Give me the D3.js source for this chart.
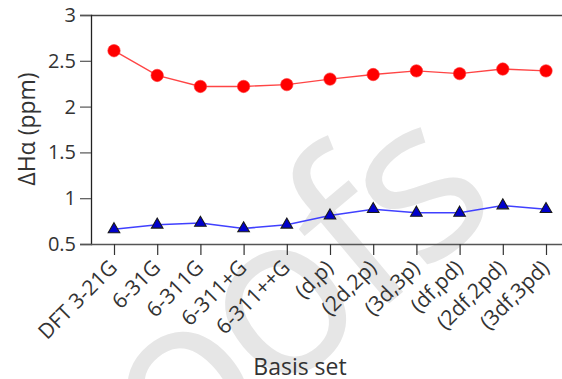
<!DOCTYPE html>
<html>
<head>
<meta charset="utf-8">
<script src="https://cdn.jsdelivr.net/npm/d3@7"></script>
<style>
  html, body { margin: 0; padding: 0; background: #fff; }
  svg { display: block; }
  text { font-family: "Open Sans", Lato, sans-serif; fill: #222; }
</style>
</head>
<body>
<div id="chart"></div>
<script>
// Basis sets along the x axis
const categories = ["DFT 3-21G", "6-31G", "6-311G", "6-311+G", "6-311++G",
  "(d,p)", "(2d,2p)", "(3d,3p)", "(df,pd)", "(2df,2pd)", "(3df,3pd)"];
// Upper series (red circles), ppm
const upperValues = [2.61, 2.34, 2.22, 2.22, 2.24, 2.30, 2.35, 2.39, 2.36, 2.41, 2.39];
// Lower series (blue triangles), ppm
const lowerValues = [0.66, 0.71, 0.73, 0.67, 0.71, 0.81, 0.88, 0.84, 0.84, 0.92, 0.88];
const yTicks = [0.5, 1, 1.5, 2, 2.5, 3];

const W = 562, H = 379;
const svg = d3.select("#chart").append("svg").attr("width", W).attr("height", H);

// Faint background stamp
svg.append("text")
  .attr("transform", "translate(498,212) rotate(-40)")
  .attr("text-anchor", "end")
  .attr("font-size", 225)
  .attr("letter-spacing", -8)
  .style("font-family", "'Open Sans', sans-serif")
  .style("fill", "#e6e6e6")
  .text("Proofs");

const plotLeft = 91, plotRight = 562, plotTop = 15, plotBottom = 244;
const x = d3.scalePoint().domain(categories).range([114, 546]);
const y = d3.scaleLinear().domain([0.5, 3]).range([plotBottom, plotTop]);

// Top frame line
svg.append("line").attr("x1", plotLeft).attr("x2", plotRight).attr("y1", plotTop + 0.5).attr("y2", plotTop + 0.5)
  .attr("stroke", "#444").attr("stroke-width", 1.3);

// Y axis
const yAxis = svg.append("g").attr("transform", `translate(${plotLeft},0)`)
  .call(d3.axisLeft(y).tickValues(yTicks).tickSize(11).tickPadding(4).tickFormat(d3.format("")));
yAxis.select(".domain").attr("stroke", "#222").attr("stroke-width", 1.3);
yAxis.selectAll(".tick line").attr("stroke", "#555").attr("stroke-width", 1.2);
yAxis.selectAll(".tick text").attr("font-size", 20).style("fill", "#333");

// X axis
const xAxis = svg.append("g").attr("transform", `translate(0,${plotBottom})`)
  .call(d3.axisBottom(x).tickSize(11).tickSizeOuter(0));
xAxis.select(".domain").attr("d", `M${plotLeft},0.5H${plotRight}`).attr("stroke", "#555").attr("stroke-width", 1.3);
xAxis.selectAll(".tick line").attr("stroke", "#333").attr("stroke-width", 1.2);
xAxis.selectAll(".tick text")
  .attr("font-size", 21).style("fill", "#333")
  .attr("text-anchor", "end")
  .attr("x", 0).attr("y", 0).attr("dx", 0).attr("dy", 0)
  .attr("transform", "translate(4,25) rotate(-45)");

// Axis titles
svg.append("text").attr("x", 300).attr("y", 375).attr("text-anchor", "middle")
  .attr("font-size", 23).style("fill", "#333").text("Basis set");
svg.append("text").attr("transform", "translate(35,129) rotate(-90)").attr("text-anchor", "middle")
  .attr("font-size", 23).style("fill", "#333").text("ΔHα (ppm)");

// Upper series
const line = d3.line().x((d, i) => x(categories[i])).y(d => y(d));
svg.append("path").datum(upperValues).attr("d", line)
  .attr("fill", "none").attr("stroke", "#ff4545").attr("stroke-width", 1.4);
svg.selectAll(".dot").data(upperValues).join("circle").attr("class", "dot")
  .attr("cx", (d, i) => x(categories[i])).attr("cy", d => y(d)).attr("r", 6.2)
  .attr("fill", "#ff0000").attr("stroke", "#ff3030").attr("stroke-width", 0.6);

// Lower series
svg.append("path").datum(lowerValues).attr("d", line)
  .attr("fill", "none").attr("stroke", "#4040ff").attr("stroke-width", 1.5);
const tri = d3.symbol().type(d3.symbolTriangle).size(58);
svg.selectAll(".tri").data(lowerValues).join("path").attr("class", "tri")
  .attr("d", tri)
  .attr("transform", (d, i) => `translate(${x(categories[i])},${y(d)})`)
  .attr("fill", "#0000cc").attr("stroke", "#1a1a1a").attr("stroke-width", 1.1);
</script>
</body>
</html>
